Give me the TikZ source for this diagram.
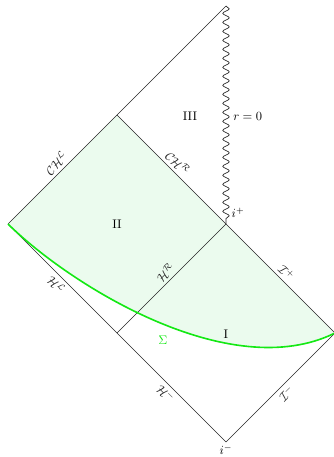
\documentclass[tikz,border=0pt]{standalone}
\usetikzlibrary{decorations.pathmorphing}
\definecolor{regfill}{RGB}{0,200,40}
\definecolor{sigmacol}{RGB}{20,232,20}
\begin{document}
\begin{tikzpicture}[x=0.8pt,y=0.8pt,
  edge/.style={black!85,line width=0.55pt},
  lab/.style={midway,sloped,inner sep=2.5pt},
  reg/.style={inner sep=0pt}]
\useasboundingbox (0,0) rectangle (334,-457);
% points
\coordinate (L) at (8,-224);
\coordinate (T) at (117,-115);
\coordinate (S) at (226,-6);
\coordinate (IP) at (226,-224);
\coordinate (IZ) at (335,-333);
\coordinate (IM) at (226,-442);
\coordinate (B) at (117,-333);
% fill region
\fill[regfill,fill opacity=0.08] (L) -- (T) -- (IP) -- (IZ) .. controls (230,-385) and (70,-285) .. (L) -- cycle;
% edges
\draw[edge] (L) -- (T) node[lab,above] {$\mathcal{CH}^{\mathcal{L}}$};
\draw[edge] (T) -- (IP) node[lab,above] {$\mathcal{CH}^{\mathcal{R}}$};
\draw[edge] (T) -- (S);
\draw[edge] (B) -- (IP) node[lab,above] {$\mathcal{H}^{\mathcal{R}}$};
\draw[edge] (IP) -- (IZ) node[lab,above] {$\mathcal{I}^{+}$};
\draw[edge] (L) -- (B) node[lab,below] {$\mathcal{H}^{\mathcal{L}}$};
\draw[edge] (B) -- (IM) node[lab,below] {$\mathcal{H}^{-}$};
\draw[edge] (IM) -- (IZ) node[lab,below] {$\mathcal{I}^{-}$};
\draw[edge,decorate,decoration={snake,amplitude=2.6pt,segment length=7.2pt,post length=1.5pt}] (S) -- (IP);
% Sigma
\draw[sigmacol,line width=1.3pt] (L) .. controls (70,-285) and (230,-385) .. (IZ);
% labels
\node[reg] (III) at (190,-116) {III};
\node[reg] (II) at (117,-224) {II};
\node[reg] (I) at (226,-334) {I};
\node[right,inner sep=0pt] (r0) at (233,-116) {$r=0$};
\node[reg] (ip) at (238,-213) {$i^{+}$};
\node[reg] (im) at (226,-450) {$i^{-}$};
\node[reg,text=sigmacol] (sig) at (163,-340) {$\Sigma$};
\end{tikzpicture}
\end{document}
